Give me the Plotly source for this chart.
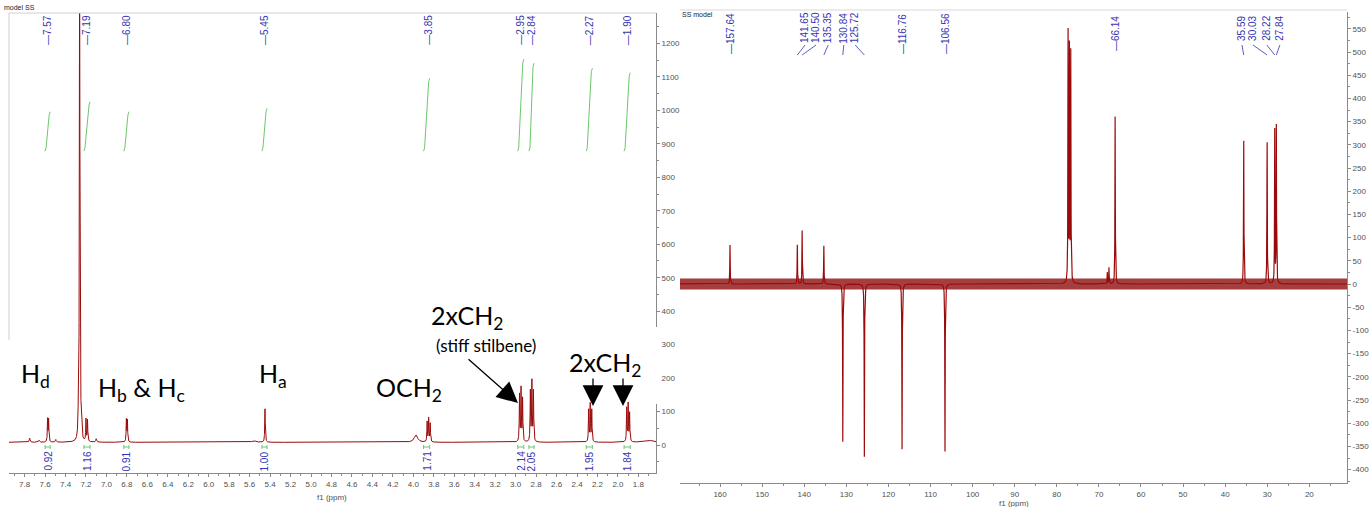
import numpy as np
import plotly.graph_objects as go

W, H = 1370, 507


def px(x):
    return x / W


def py(y):
    return 1 - y / H


# ---------------- 1H spectrum (left) ----------------
h_ppm = [7.750, 7.660, 7.575, 7.565, 7.495, 7.275, 7.262, 7.248, 7.200, 7.185, 7.100,
         6.805, 6.795, 5.560, 5.450, 3.975, 3.865, 3.850, 3.835,
         2.962, 2.947, 2.932, 2.856, 2.841, 2.826,
         2.286, 2.271, 2.256, 1.914, 1.900, 1.886, 1.700]
h_amp = [12, 6, 68, 66, 8, 55, 1500, 50, 66, 64, 10,
         66, 64, 5, 100, 22, 60, 70, 55,
         140, 158, 128, 150, 178, 150,
         95, 112, 95, 100, 112, 85, 6]
h_hw = [0.005, 0.006, 0.003, 0.003, 0.005, 0.004, 0.003, 0.004, 0.003, 0.003, 0.005,
        0.003, 0.003, 0.02, 0.003, 0.02, 0.003, 0.003, 0.003,
        0.003, 0.003, 0.003, 0.003, 0.003, 0.003,
        0.003, 0.003, 0.003, 0.003, 0.003, 0.003, 0.05]
h_base = 8

h_peak_labels = ["7.57", "7.19", "6.80", "5.45", "3.85", "2.95", "2.84", "2.27", "1.90"]

int_start = [7.60, 7.22, 6.83, 5.48, 3.90, 2.98, 2.87, 2.31, 1.94]
int_end = [7.55, 7.16, 6.78, 5.43, 3.84, 2.92, 2.82, 2.25, 1.88]
int_top = [996, 1026, 996, 1006, 1096, 1153, 1141, 1126, 1113]
int_bottom = 878
int_values = ["0.92", "1.16", "0.91", "1.00", "1.71", "2.14", "2.05", "1.95", "1.84"]

# ---------------- 13C spectrum (right) ----------------
c_ppm = [157.64, 141.65, 140.50, 135.35, 130.84, 125.72, 116.76, 106.56,
         77.32, 77.00, 76.68, 68.00, 67.60, 66.14, 35.59, 30.03, 28.22, 27.84]
c_amp = [84, 88, 115, 86, -340, -372, -356, -361,
         537, 500, 493, 25, 35, 361, 321, 317, 330, 339]
c_hw = 0.05
c_noise = 12

c_fan_labels = ["141.65", "140.50", "135.35", "130.84", "125.72",
                "35.59", "30.03", "28.22", "27.84"]
c_fan_peak = [141.65, 140.50, 135.35, 130.84, 125.72, 35.59, 30.03, 28.22, 27.84]
c_fan_pos = [139.8, 137.2, 134.3, 130.6, 127.9, 36.0, 33.4, 30.1, 27.0]
c_plain_labels = ["157.64", "116.76", "106.56", "66.14"]

RED = "#9a0a0a"
BLUE = "#3535b0"
GREEN = "#6cc86c"
AX = "#8a8a8a"
TICKFONT = dict(family="Liberation Sans", size=8, color="#505050")
LBLFONT = dict(family="Liberation Sans", size=10, color=BLUE)

# left geometry (px)
L_X0, L_X1, L_Y0, L_Y1 = 9, 656, 13, 473
# right geometry (px)
R_X0, R_X1, R_Y0, R_Y1 = 680, 1347, 12, 483

xh = np.arange(7.96, 1.62, -0.0005)
yh = np.full_like(xh, float(h_base))
for p, a, w in zip(h_ppm, h_amp, h_hw):
    yh += a / (1 + ((xh - p) / w) ** 2)

xc = np.arange(170.0, 10.0, -0.02)
yc = np.zeros_like(xc)
for p, a in zip(c_ppm, c_amp):
    yc += a / (1 + ((xc - p) / c_hw) ** 2)

fig = go.Figure()

# 1H spectrum
fig.add_trace(go.Scatter(x=xh, y=yh, mode="lines", line=dict(color=RED, width=1),
                         xaxis="x", yaxis="y", hoverinfo="skip"))

# integral curves and brackets
for s, e, t in zip(int_start, int_end, int_top):
    fig.add_trace(go.Scatter(x=[s, s - 0.01, e + 0.01, e], y=[int_bottom, int_bottom + 10, t - 10, t],
                             mode="lines", line=dict(color=GREEN, width=1),
                             xaxis="x", yaxis="y", hoverinfo="skip"))
    fig.add_trace(go.Scatter(x=[s, s, None, s, e, None, e, e],
                             y=[-12, 0, None, -6, -6, None, -12, 0],
                             mode="lines", line=dict(color=GREEN, width=1),
                             xaxis="x", yaxis="y", hoverinfo="skip"))

# 13C noise band + spectrum
fig.add_trace(go.Scatter(x=[xc[0], xc[-1], xc[-1], xc[0]],
                         y=[c_noise, c_noise, -c_noise, -c_noise],
                         fill="toself", mode="lines", line=dict(width=0),
                         fillcolor="rgba(140,8,8,0.78)",
                         xaxis="x2", yaxis="y2", hoverinfo="skip"))
fig.add_trace(go.Scatter(x=xc, y=yc, mode="lines", line=dict(color=RED, width=1.2),
                         xaxis="x2", yaxis="y2", hoverinfo="skip"))

ann = []


def add_text(x, y, text, font, xref="paper", yref="paper", angle=0):
    ann.append(dict(x=x, y=y, xref=xref, yref=yref, text=text, textangle=angle,
                    showarrow=False, xanchor="center", yanchor="middle", font=font))


# left peak labels
for lbl in h_peak_labels:
    add_text(float(lbl), py(30), "—" + lbl, LBLFONT, xref="x", angle=-90)
# integral values
for s, e, v in zip(int_start, int_end, int_values):
    add_text((s + e) / 2, py(461), v, LBLFONT, xref="x", angle=-90)
# right labels
for lbl in c_plain_labels:
    add_text(float(lbl), py(34), "—" + lbl, LBLFONT, xref="x2", angle=-90)
for lbl, pos in zip(c_fan_labels, c_fan_pos):
    add_text(pos, py(28), lbl, LBLFONT, xref="x2", angle=-90)

# small headers
add_text(px(19), py(8), "model SS", dict(family="Liberation Sans", size=7, color="#222"))
add_text(px(697), py(14), "SS model", dict(family="Liberation Sans", size=7, color="#222"))
add_text(px(332), py(497), "f1 (ppm)", TICKFONT)
add_text(px(1014), py(503), "f1 (ppm)", TICKFONT)

# big assignment labels
BIG = dict(family="Lato", size=25, color="black")
for txt, cx, cy, f in [("H<sub>d</sub>", 35, 375, BIG),
                       ("H<sub>b</sub> &amp; H<sub>c</sub>", 141, 389, BIG),
                       ("H<sub>a</sub>", 273, 375, BIG),
                       ("OCH<sub>2</sub>", 409, 389, BIG),
                       ("2xCH<sub>2</sub>", 467, 317, BIG),
                       ("(stiff stilbene)", 486, 345, dict(family="Lato", size=17, color="black")),
                       ("2xCH<sub>2</sub>", 605, 364, BIG)]:
    add_text(px(cx), py(cy), txt, f)

# arrows
for tip, tail in [((518, 403), (467, 358)), ((593, 406), (593, 377)), ((623, 406), (623, 377))]:
    ann.append(dict(x=px(tip[0]), y=py(tip[1]), xref="paper", yref="paper", text="",
                    showarrow=True, arrowhead=2, arrowsize=3.2, arrowwidth=1.3,
                    arrowcolor="black", ax=tail[0] - tip[0], ay=tail[1] - tip[1]))

shapes = []
# fan lines (right)
for pk, pos in zip(c_fan_peak, c_fan_pos):
    shapes.append(dict(type="line", xref="x2", yref="paper", x0=pos, x1=pk,
                       y0=py(45), y1=py(55), line=dict(color=BLUE, width=0.8)))
# frames
shapes.append(dict(type="line", xref="paper", yref="paper", x0=px(L_X0), x1=px(L_X1),
                   y0=py(L_Y0), y1=py(L_Y0), line=dict(color="#d0d0d0", width=1)))
shapes.append(dict(type="line", xref="paper", yref="paper", x0=px(L_X0), x1=px(L_X0),
                   y0=py(L_Y0), y1=py(340), line=dict(color="#d0d0d0", width=1)))
shapes.append(dict(type="line", xref="paper", yref="paper", x0=px(R_X0), x1=px(R_X1),
                   y0=py(R_Y0 - 2), y1=py(R_Y0 - 2), line=dict(color="#d8d8d8", width=1)))
# gap in the left y axis
shapes.append(dict(type="rect", xref="paper", yref="paper", x0=px(652), x1=px(661),
                   y0=py(404), y1=py(327), fillcolor="white", line=dict(width=0), layer="above"))

ly_scale = 0.3346   # px per unit, left
ly_zero = 445
ry_scale = 0.464
ry_zero = 284

l_xppm0 = 5.45 + (265 - L_X0) / 102.3
l_xppm1 = 5.45 - (L_X1 - 265) / 102.3
r_xppm0 = 157.64 + (730 - R_X0) / 4.209
r_xppm1 = 157.64 - (R_X1 - 730) / 4.209

ly_tv = list(range(0, 1201, 100))
ry_tv = list(range(-400, 551, 50))

fig.update_layout(
    width=W, height=H, margin=dict(l=0, r=0, t=0, b=0),
    paper_bgcolor="white", plot_bgcolor="white", showlegend=False,
    xaxis=dict(domain=[px(L_X0), px(L_X1)], range=[l_xppm0, l_xppm1], anchor="y",
               dtick=0.2, tick0=0, tickformat=".1f", ticks="outside", ticklen=3,
               tickcolor=AX, showline=True, linecolor=AX, linewidth=1,
               showgrid=False, zeroline=False, tickfont=TICKFONT,
               minor=dict(dtick=0.1, ticks="outside", ticklen=2, tickcolor=AX)),
    yaxis=dict(domain=[py(L_Y1), py(L_Y0)],
               range=[(ly_zero - L_Y1) / ly_scale, (ly_zero - L_Y0) / ly_scale],
               anchor="x", side="right", tickvals=ly_tv, ticktext=[str(v) for v in ly_tv],
               ticks="outside", ticklen=3, tickcolor=AX, showline=True, linecolor=AX,
               showgrid=False, zeroline=False, tickfont=TICKFONT,
               minor=dict(dtick=50, ticks="outside", ticklen=2, tickcolor=AX)),
    xaxis2=dict(domain=[px(R_X0), px(R_X1)], range=[r_xppm0, r_xppm1], anchor="y2",
                dtick=10, tick0=0, ticks="outside", ticklen=3, tickcolor=AX,
                showline=True, linecolor=AX, showgrid=False, zeroline=False,
                tickfont=TICKFONT,
                minor=dict(dtick=5, ticks="outside", ticklen=2, tickcolor=AX)),
    yaxis2=dict(domain=[py(R_Y1), py(R_Y0)],
                range=[(ry_zero - R_Y1) / ry_scale, (ry_zero - R_Y0) / ry_scale],
                anchor="x2", side="right", tickvals=ry_tv, ticktext=[str(v) for v in ry_tv],
                ticks="outside", ticklen=3, tickcolor=AX, showline=True, linecolor=AX,
                showgrid=False, zeroline=False, tickfont=TICKFONT,
                minor=dict(dtick=25, ticks="outside", ticklen=2, tickcolor=AX)),
    annotations=ann, shapes=shapes,
)

fig.write_html("out.html", config={"displayModeBar": False},
               post_script="document.body.style.margin='0px';document.body.style.overflow='hidden';")
